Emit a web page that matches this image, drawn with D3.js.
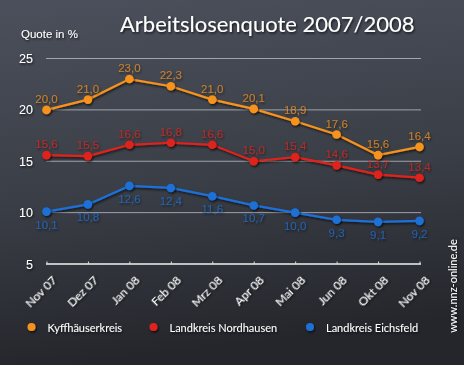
<!DOCTYPE html>
<html>
<head>
<meta charset="utf-8">
<script src="https://cdn.jsdelivr.net/npm/d3@7"></script>
<style>
  html, body { margin: 0; padding: 0; background: #33363d; }
  svg { display: block; }
  text { font-family: "Lato", "Open Sans", sans-serif; }
  .plain { font-family: "Liberation Sans", Arial, sans-serif; }
</style>
</head>
<body>
<div id="chart"></div>
<script>
// data
const months = ["Nov 07", "Dez 07", "Jan 08", "Feb 08", "Mrz 08", "Apr 08", "Mai 08", "Jun 08", "Okt 08", "Nov 08"];
const kyffhaeuser = [20.0, 21.0, 23.0, 22.3, 21.0, 20.1, 18.9, 17.6, 15.6, 16.4];
const nordhausen = [15.6, 15.5, 16.6, 16.8, 16.6, 15.0, 15.4, 14.6, 13.7, 13.4];
const eichsfeld = [10.1, 10.8, 12.6, 12.4, 11.6, 10.7, 10.0, 9.3, 9.1, 9.2];
const yTicks = [5, 10, 15, 20, 25];

const series = [
  { name: "Kyffhäuserkreis", values: kyffhaeuser, color: "#f7931e", labelPos: "above" },
  { name: "Landkreis Nordhausen", values: nordhausen, color: "#e0231c", labelPos: "above" },
  { name: "Landkreis Eichsfeld", values: eichsfeld, color: "#1f6fd6", labelPos: "below" }
];

const width = 464, height = 365;

const svg = d3.select("#chart")
  .append("svg")
  .attr("width", width)
  .attr("height", height);

const defs = svg.append("defs");
const grad = defs.append("linearGradient")
  .attr("id", "bg")
  .attr("x1", 0).attr("y1", 0).attr("x2", 0.15).attr("y2", 1);
grad.append("stop").attr("offset", "0%").attr("stop-color", "#4b505c");
grad.append("stop").attr("offset", "55%").attr("stop-color", "#3a3e46");
grad.append("stop").attr("offset", "100%").attr("stop-color", "#25262c");

const shadow = defs.append("filter").attr("id", "shadow")
  .attr("x", "-10%").attr("y", "-20%").attr("width", "130%").attr("height", "160%");
shadow.append("feDropShadow")
  .attr("dx", 1).attr("dy", 1.5).attr("stdDeviation", 1)
  .attr("flood-color", "#000").attr("flood-opacity", 0.7);

svg.append("rect")
  .attr("width", width).attr("height", height)
  .attr("fill", "url(#bg)");

const x = d3.scalePoint()
  .domain(months)
  .range([46.5, 419.5]);

const y = d3.scaleLinear()
  .domain([5, 25])
  .range([264, 58.5]);

// gridlines
svg.append("g")
  .selectAll("line")
  .data(yTicks.filter(d => d > 5))
  .enter().append("line")
  .attr("x1", 46).attr("x2", 421)
  .attr("y1", d => y(d)).attr("y2", d => y(d))
  .attr("stroke", "#b9bcc2")
  .attr("stroke-width", 1)
  .attr("opacity", 0.8);

// y labels
svg.append("g")
  .selectAll("text")
  .data(yTicks)
  .enter().append("text")
  .attr("class", "plain")
  .attr("x", 33)
  .attr("y", d => y(d) + 4.5)
  .attr("text-anchor", "end")
  .attr("fill", "#fff")
  .attr("font-size", 12.5)
  .attr("filter", "url(#shadow)")
  .text(d => d);

// x axis
const xAxis = svg.append("g")
  .attr("transform", `translate(0,${y(5)})`)
  .call(d3.axisBottom(x).tickSize(-2.5).tickFormat(""));
xAxis.select(".domain")
  .attr("d", `M46,0H421`)
  .attr("stroke", "#f2f2f2")
  .attr("stroke-width", 1.5);
xAxis.selectAll(".tick line").attr("stroke", "#ddd");

svg.append("g")
  .selectAll("text")
  .data(months)
  .enter().append("text")
  .attr("transform", d => `translate(${x(d) + 11},${y(5) + 17}) rotate(-45)`)
  .attr("text-anchor", "end")
  .attr("fill", "#fff")
  .attr("font-size", 12)
  .attr("filter", "url(#shadow)")
  .text(d => d);

// title and y caption
svg.append("text")
  .attr("x", 120).attr("y", 32)
  .attr("fill", "#fff")
  .attr("font-size", 22)
  .attr("filter", "url(#shadow)")
  .text("Arbeitslosenquote 2007/2008");

svg.append("text")
  .attr("class", "plain")
  .attr("x", 21).attr("y", 38)
  .attr("fill", "#fff")
  .attr("font-size", 11.5)
  .attr("filter", "url(#shadow)")
  .text("Quote in %");

// lines, points and value labels
const line = d3.line()
  .x((d, i) => x(months[i]))
  .y(d => y(d));

const fmt = v => d3.format(".1f")(v).replace(".", ",");

series.forEach(s => {
  const g = svg.append("g");
  g.append("path")
    .datum(s.values)
    .attr("d", line)
    .attr("fill", "none")
    .attr("stroke", s.color)
    .attr("stroke-width", 2.2)
    .attr("filter", "url(#shadow)");
  g.selectAll("circle")
    .data(s.values)
    .enter().append("circle")
    .attr("cx", (d, i) => x(months[i]))
    .attr("cy", d => y(d))
    .attr("r", 4.3)
    .attr("fill", s.color)
    .attr("filter", "url(#shadow)");
  g.selectAll("text")
    .data(s.values)
    .enter().append("text")
    .attr("class", "plain")
    .attr("x", (d, i) => x(months[i]))
    .attr("y", d => s.labelPos === "above" ? y(d) - 7 : y(d) + 17)
    .attr("text-anchor", "middle")
    .attr("fill", s.color)
    .attr("font-size", 11.5)
    .attr("opacity", 0.75)
    .attr("filter", "url(#shadow)")
    .text(d => fmt(d));
});

// legend
const legendX = [31.5, 153.5, 310];
const legend = svg.append("g")
  .selectAll("g")
  .data(series)
  .enter().append("g")
  .attr("transform", (d, i) => `translate(${legendX[i]},327)`);
legend.append("circle")
  .attr("r", 4)
  .attr("fill", d => d.color)
  .attr("filter", "url(#shadow)");
legend.append("text")
  .attr("x", 16).attr("y", 4.5)
  .attr("fill", "#fff")
  .attr("font-size", 11)
  .attr("filter", "url(#shadow)")
  .text(d => d.name);

// source
svg.append("text")
  .attr("transform", "translate(457,286) rotate(-90)")
  .attr("text-anchor", "middle")
  .attr("fill", "#fff")
  .attr("font-size", 11)
  .attr("filter", "url(#shadow)")
  .text("www.nnz-online.de");
</script>
</body>
</html>
